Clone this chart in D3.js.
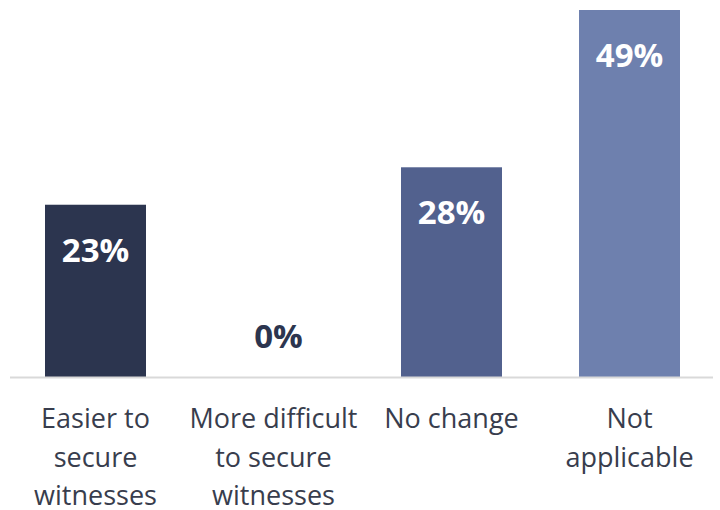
<!DOCTYPE html>
<html>
<head>
<meta charset="utf-8">
<script src="https://cdn.jsdelivr.net/npm/d3@7"></script>
<style>
  html, body { margin: 0; padding: 0; background: #ffffff; }
  svg { display: block; font-family: "Open Sans", "Noto Sans", sans-serif; }
</style>
</head>
<body>
<svg id="chart" width="720" height="510"></svg>
<script>
// Share of respondents by effect on securing witnesses
const categories = [
  ["Easier to", "secure", "witnesses"],
  ["More difficult", "to secure", "witnesses"],
  ["No change"],
  ["Not", "applicable"]
];
const values = [23, 0, 28, 49];
const valueLabels = ["23%", "0%", "28%", "49%"];
const barColors = ["#2c354f", "#2c354f", "#52618e", "#6e80ae"];

const svg = d3.select("#chart");
const keys = d3.range(categories.length);

const x = d3.scaleBand()
  .domain(keys)
  .range([6.5, 718.5])
  .paddingInner(0.4326)
  .paddingOuter(0.2163);

const y = d3.scaleLinear()
  .domain([0, 49])
  .range([377, 10]);

// bars
svg.append("g")
  .selectAll("rect")
  .data(values)
  .join("rect")
  .attr("x", (d, i) => x(i))
  .attr("y", d => y(d))
  .attr("width", x.bandwidth())
  .attr("height", d => y(0) - y(d))
  .attr("fill", (d, i) => barColors[i]);

// baseline
svg.append("line")
  .attr("x1", 10).attr("x2", 713)
  .attr("y1", y(0) + 0.5).attr("y2", y(0) + 0.5)
  .attr("stroke", "#d9d9d9")
  .attr("stroke-width", 2);

// value labels: inside the bar, or just above the baseline for empty bars
svg.append("g")
  .selectAll("text")
  .data(values)
  .join("text")
  .attr("x", (d, i) => x(i) + x.bandwidth() / 2 + (d > 0 ? 0 : 5))
  .attr("y", d => d > 0 ? y(d) + 57 : y(0) - 29)
  .attr("text-anchor", "middle")
  .attr("font-size", 33)
  .attr("font-weight", 700)
  .attr("fill", d => d > 0 ? "#ffffff" : "#2c354f")
  .text((d, i) => valueLabels[i]);

// category labels
const cat = svg.append("g")
  .selectAll("text")
  .data(categories)
  .join("text")
  .attr("x", (d, i) => x(i) + x.bandwidth() / 2)
  .attr("y", 428)
  .attr("text-anchor", "middle")
  .attr("font-size", 27)
  .attr("fill", "#383d4d");

cat.selectAll("tspan")
  .data(d => d)
  .join("tspan")
  .attr("x", function () { return d3.select(this.parentNode).attr("x"); })
  .attr("dy", (d, j) => j === 0 ? 0 : 38.5)
  .text(d => d);
</script>
</body>
</html>
